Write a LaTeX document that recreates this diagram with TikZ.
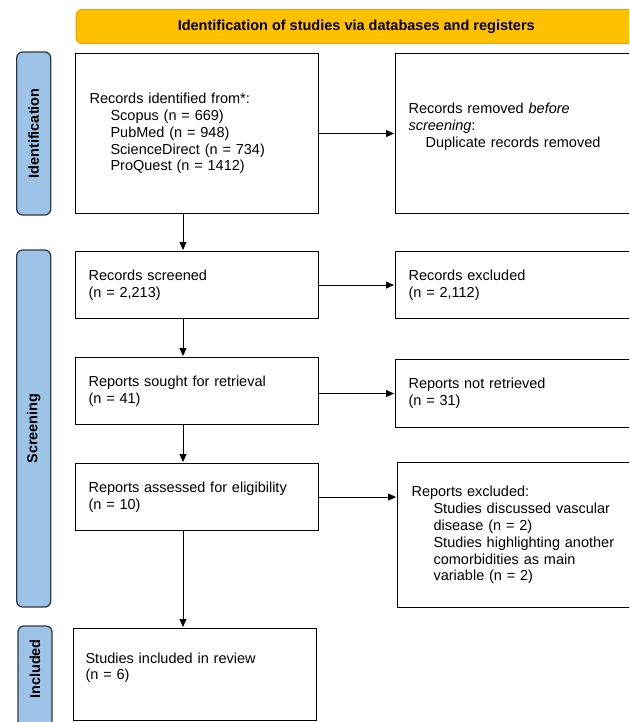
\documentclass[tikz,border=0pt]{standalone}
\usepackage{fontspec}
\setmainfont{Liberation Sans}
\usetikzlibrary{arrows.meta}
\definecolor{bannerfill}{HTML}{FFC000}
\definecolor{bannerline}{HTML}{E0A800}
\definecolor{barfill}{HTML}{9DC3E6}
\definecolor{barline}{HTML}{2F3A48}
\begin{document}
\begin{tikzpicture}[x=1pt,y=-1pt,
  txt/.style={font=\fontsize{14.5}{16.8}\selectfont},
  box/.style={txt, draw=black, line width=1.1pt, fill=white, anchor=north west,
    inner ysep=0pt, align=left},
  bar/.style={draw=barline, line width=1.3pt, fill=barfill, rounded corners=6pt,
    rotate=90, inner sep=0pt, font=\fontsize{14.5}{16.8}\selectfont\bfseries},
  barlabel/.style={rotate=90, inner sep=0pt, font=\fontsize{14.5}{16.8}\selectfont\bfseries},
  banner/.style={draw=bannerline, line width=1.1pt, fill=bannerfill, rounded corners=6pt,
    anchor=north west, font=\fontsize{14.5}{16.8}\selectfont\bfseries},
  arr/.style={draw=black, line width=0.9pt, -{Triangle[length=8pt,width=7pt]}, shorten >=1pt}]
\clip (0,0) rectangle (629,722);
\fill[white] (0,0) rectangle (629,722);

% banner
\node[banner, minimum width=560, minimum height=34] (ban) at (75.7,9)
  {Identification of studies via databases and registers};

% side bars
\node[bar, minimum width=163, minimum height=34] (barid) at (33.7,133.5) {Identification};
\node[bar, minimum width=357, minimum height=34] (barscr) at (33.7,428.5) {Screening};
\node[bar, minimum width=130, minimum height=34] (barinc) at (35,691) {};
\node[barlabel] (linc) at (35,669) {Included};

% boxes
\node[box, text width=215, inner xsep=14, minimum height=160] (b1) at (75,53)
  {Records identified from*:\\
   \hspace*{21pt}Scopus (n = 669)\\
   \hspace*{21pt}PubMed (n = 948)\\
   \hspace*{21pt}ScienceDirect (n = 734)\\
   \hspace*{21pt}ProQuest (n = 1412)};
\node[box, text width=224, inner xsep=13, minimum height=160] (b2) at (395,53)
  {Records removed \textit{before}\\
   \textit{screening}:\\
   \hspace*{17pt}Duplicate records removed\\
   \phantom{X}};
\node[box, text width=217, inner xsep=13, minimum height=67] (b3) at (75,251)
  {Records screened\\(n = 2,213)};
\node[box, text width=224, inner xsep=13, minimum height=67] (b4) at (395,251)
  {Records excluded\\(n = 2,112)};
\node[box, text width=217, inner xsep=13, minimum height=67] (b5) at (75,357)
  {Reports sought for retrieval\\(n = 41)};
\node[box, text width=224, inner xsep=13, minimum height=68] (b6) at (395,359)
  {Reports not retrieved\\(n = 31)};
\node[box, text width=217, inner xsep=13, minimum height=67] (b7) at (75,463)
  {Reports assessed for eligibility\\(n = 10)};
\node[box, text width=222, inner xsep=14, minimum height=145] (b8) at (397,462)
  {Reports excluded:\\
   \hspace*{22pt}Studies discussed vascular\\
   \hspace*{22pt}disease (n = 2)\\
   \hspace*{22pt}Studies highlighting another\\
   \hspace*{22pt}comorbidities as main\\
   \hspace*{22pt}variable (n = 2)};
\node[box, text width=219, inner xsep=12, minimum height=92] (b9) at (73,628)
  {Studies included in review\\(n = 6)\\\phantom{X}};

% connectors
\coordinate (ax) at (183,0);
\draw[arr] (b1.south -| ax) -- (b3.north -| ax);
\draw[arr] (b3.south -| ax) -- (b5.north -| ax);
\draw[arr] (b5.south -| ax) -- (b7.north -| ax);
\draw[arr] (b7.south -| ax) -- (b9.north -| ax);
\draw[arr] (b1.east) -- (b2.west);
\draw[arr] (b3.east) -- (b4.west);
\draw[arr] (b5.east |- b6.west) -- (b6.west);
\draw[arr] (b7.east) -- (b7.east -| b8.west);
\end{tikzpicture}
\end{document}
